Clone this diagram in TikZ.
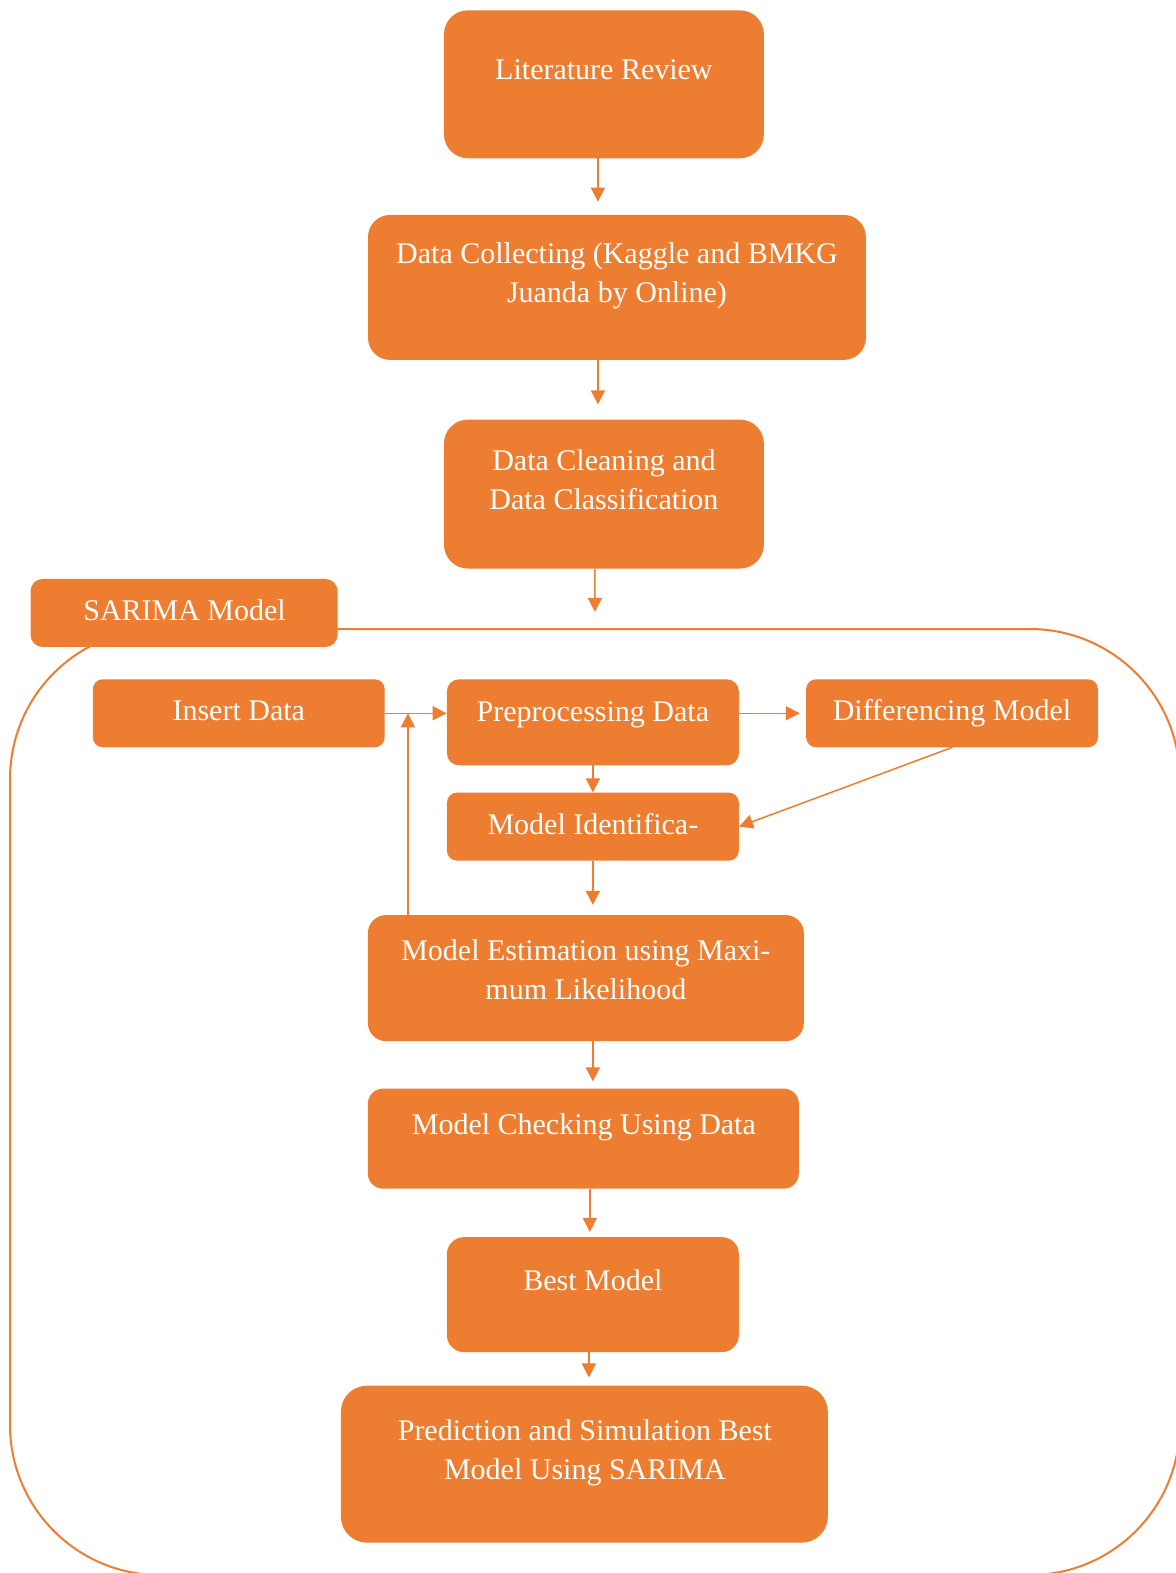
\documentclass[tikz,border=0pt]{standalone}
\usepackage{fontspec}
\setmainfont{Liberation Serif}
\usetikzlibrary{arrows.meta}
\definecolor{org}{HTML}{ED7D31}
\tikzset{
  box/.style={fill=org, draw=none, inner sep=0pt},
  lbl/.style={text=white, align=center, inner sep=0pt, anchor=base, font=\fontsize{30}{39}\selectfont},
  arr/.style={draw=org, line width=1.5pt, -{Triangle[length=14pt,width=14pt]}},
}
\begin{document}
\begin{tikzpicture}[x=1.0034pt, y=-1.0034pt]
\useasboundingbox (0,0) rectangle (1172,1568);
\begin{scope}
\clip (0,0) rectangle (1172,1568);
\draw[org, line width=2pt, rounded corners=150pt] (10,627) rectangle (1176,1570);
\end{scope}

% boxes
\node[box, rounded corners=24pt, minimum width=320pt, minimum height=148pt] (lr) at (602,84) {};
\node[box, rounded corners=22pt, minimum width=498pt, minimum height=145pt] (dc) at (615,286.5) {};
\node[box, rounded corners=24pt, minimum width=320pt, minimum height=149pt] (dcl) at (602,492.5) {};
\node[box, rounded corners=12pt, minimum width=307pt, minimum height=68pt] (sar) at (183.5,611) {};
\node[box, rounded corners=10pt, minimum width=292pt, minimum height=68pt] (ins) at (238,711) {};
\node[box, rounded corners=12pt, minimum width=292pt, minimum height=86pt] (pre) at (591,720) {};
\node[box, rounded corners=10pt, minimum width=292pt, minimum height=68pt] (dif) at (949,711) {};
\node[box, rounded corners=10pt, minimum width=292pt, minimum height=68pt] (mid) at (591,824) {};
\node[box, rounded corners=18pt, minimum width=436pt, minimum height=126pt] (est) at (584,975) {};
\node[box, rounded corners=15pt, minimum width=431pt, minimum height=100pt] (chk) at (581.5,1135) {};
\node[box, rounded corners=17pt, minimum width=292pt, minimum height=115pt] (best) at (591,1290.5) {};
\node[box, rounded corners=26pt, minimum width=487pt, minimum height=157pt] (pred) at (582.5,1459.5) {};

% labels (anchor=base: baseline of the last line)
\node[lbl] (t1) at (602,79) {Literature Review};
\node[lbl] (t2) at (615,302) {Data Collecting (Kaggle and BMKG\\Juanda by Online)};
\node[lbl] (t3) at (602,508) {Data Cleaning and\\Data Classification};
\node[lbl] (t4) at (184,619) {SARIMA Model};
\node[lbl] (t5) at (238,718) {Insert Data};
\node[lbl] (t6) at (591,719) {Preprocessing Data};
\node[lbl] (t7) at (949,718) {Differencing Model};
\node[lbl] (t8) at (591,832) {Model Identifica-};
\node[lbl] (t9) at (584,996) {Model Estimation using Maxi-\\mum Likelihood};
\node[lbl] (t10) at (582,1131) {Model Checking Using Data};
\node[lbl] (t11) at (591,1286) {Best Model};
\node[lbl] (t12) at (583,1475) {Prediction and Simulation Best\\Model Using SARIMA};

\coordinate (c1) at (593,610);

% connectors
\draw[arr, shorten >=13pt] ([xshift=-6pt]lr.south) -- ([xshift=-6pt]lr.south |- dc.north);
\draw[arr, shorten >=15pt] ([xshift=-19pt]dc.south) -- ([xshift=-19pt]dc.south |- dcl.north);
\draw[arr] ([xshift=-9pt]dcl.south) -- (c1);
\draw[arr] (ins.east) -- (ins.east -| pre.west);
\draw[arr] ([xshift=-178pt]est.north) -- ([xshift=-178pt]est.north |- ins.east);
\draw[arr, shorten >=6pt] (pre.east |- dif.west) -- (dif.west);
\draw[arr] (pre.south) -- (mid.north);
\draw[arr] (dif.south) -- (mid.east);
\draw[arr, shorten >=10pt] (mid.south) -- (mid.south |- est.north);
\draw[arr, shorten >=7pt] ([xshift=7pt]est.south) -- ([xshift=7pt]est.south |- chk.north);
\draw[arr, shorten >=5pt] ([xshift=6.5pt]chk.south) -- ([xshift=6.5pt]chk.south |- best.north);
\draw[arr, shorten >=8pt] ([xshift=-4pt]best.south) -- ([xshift=-4pt]best.south |- pred.north);
\end{tikzpicture}
\end{document}
